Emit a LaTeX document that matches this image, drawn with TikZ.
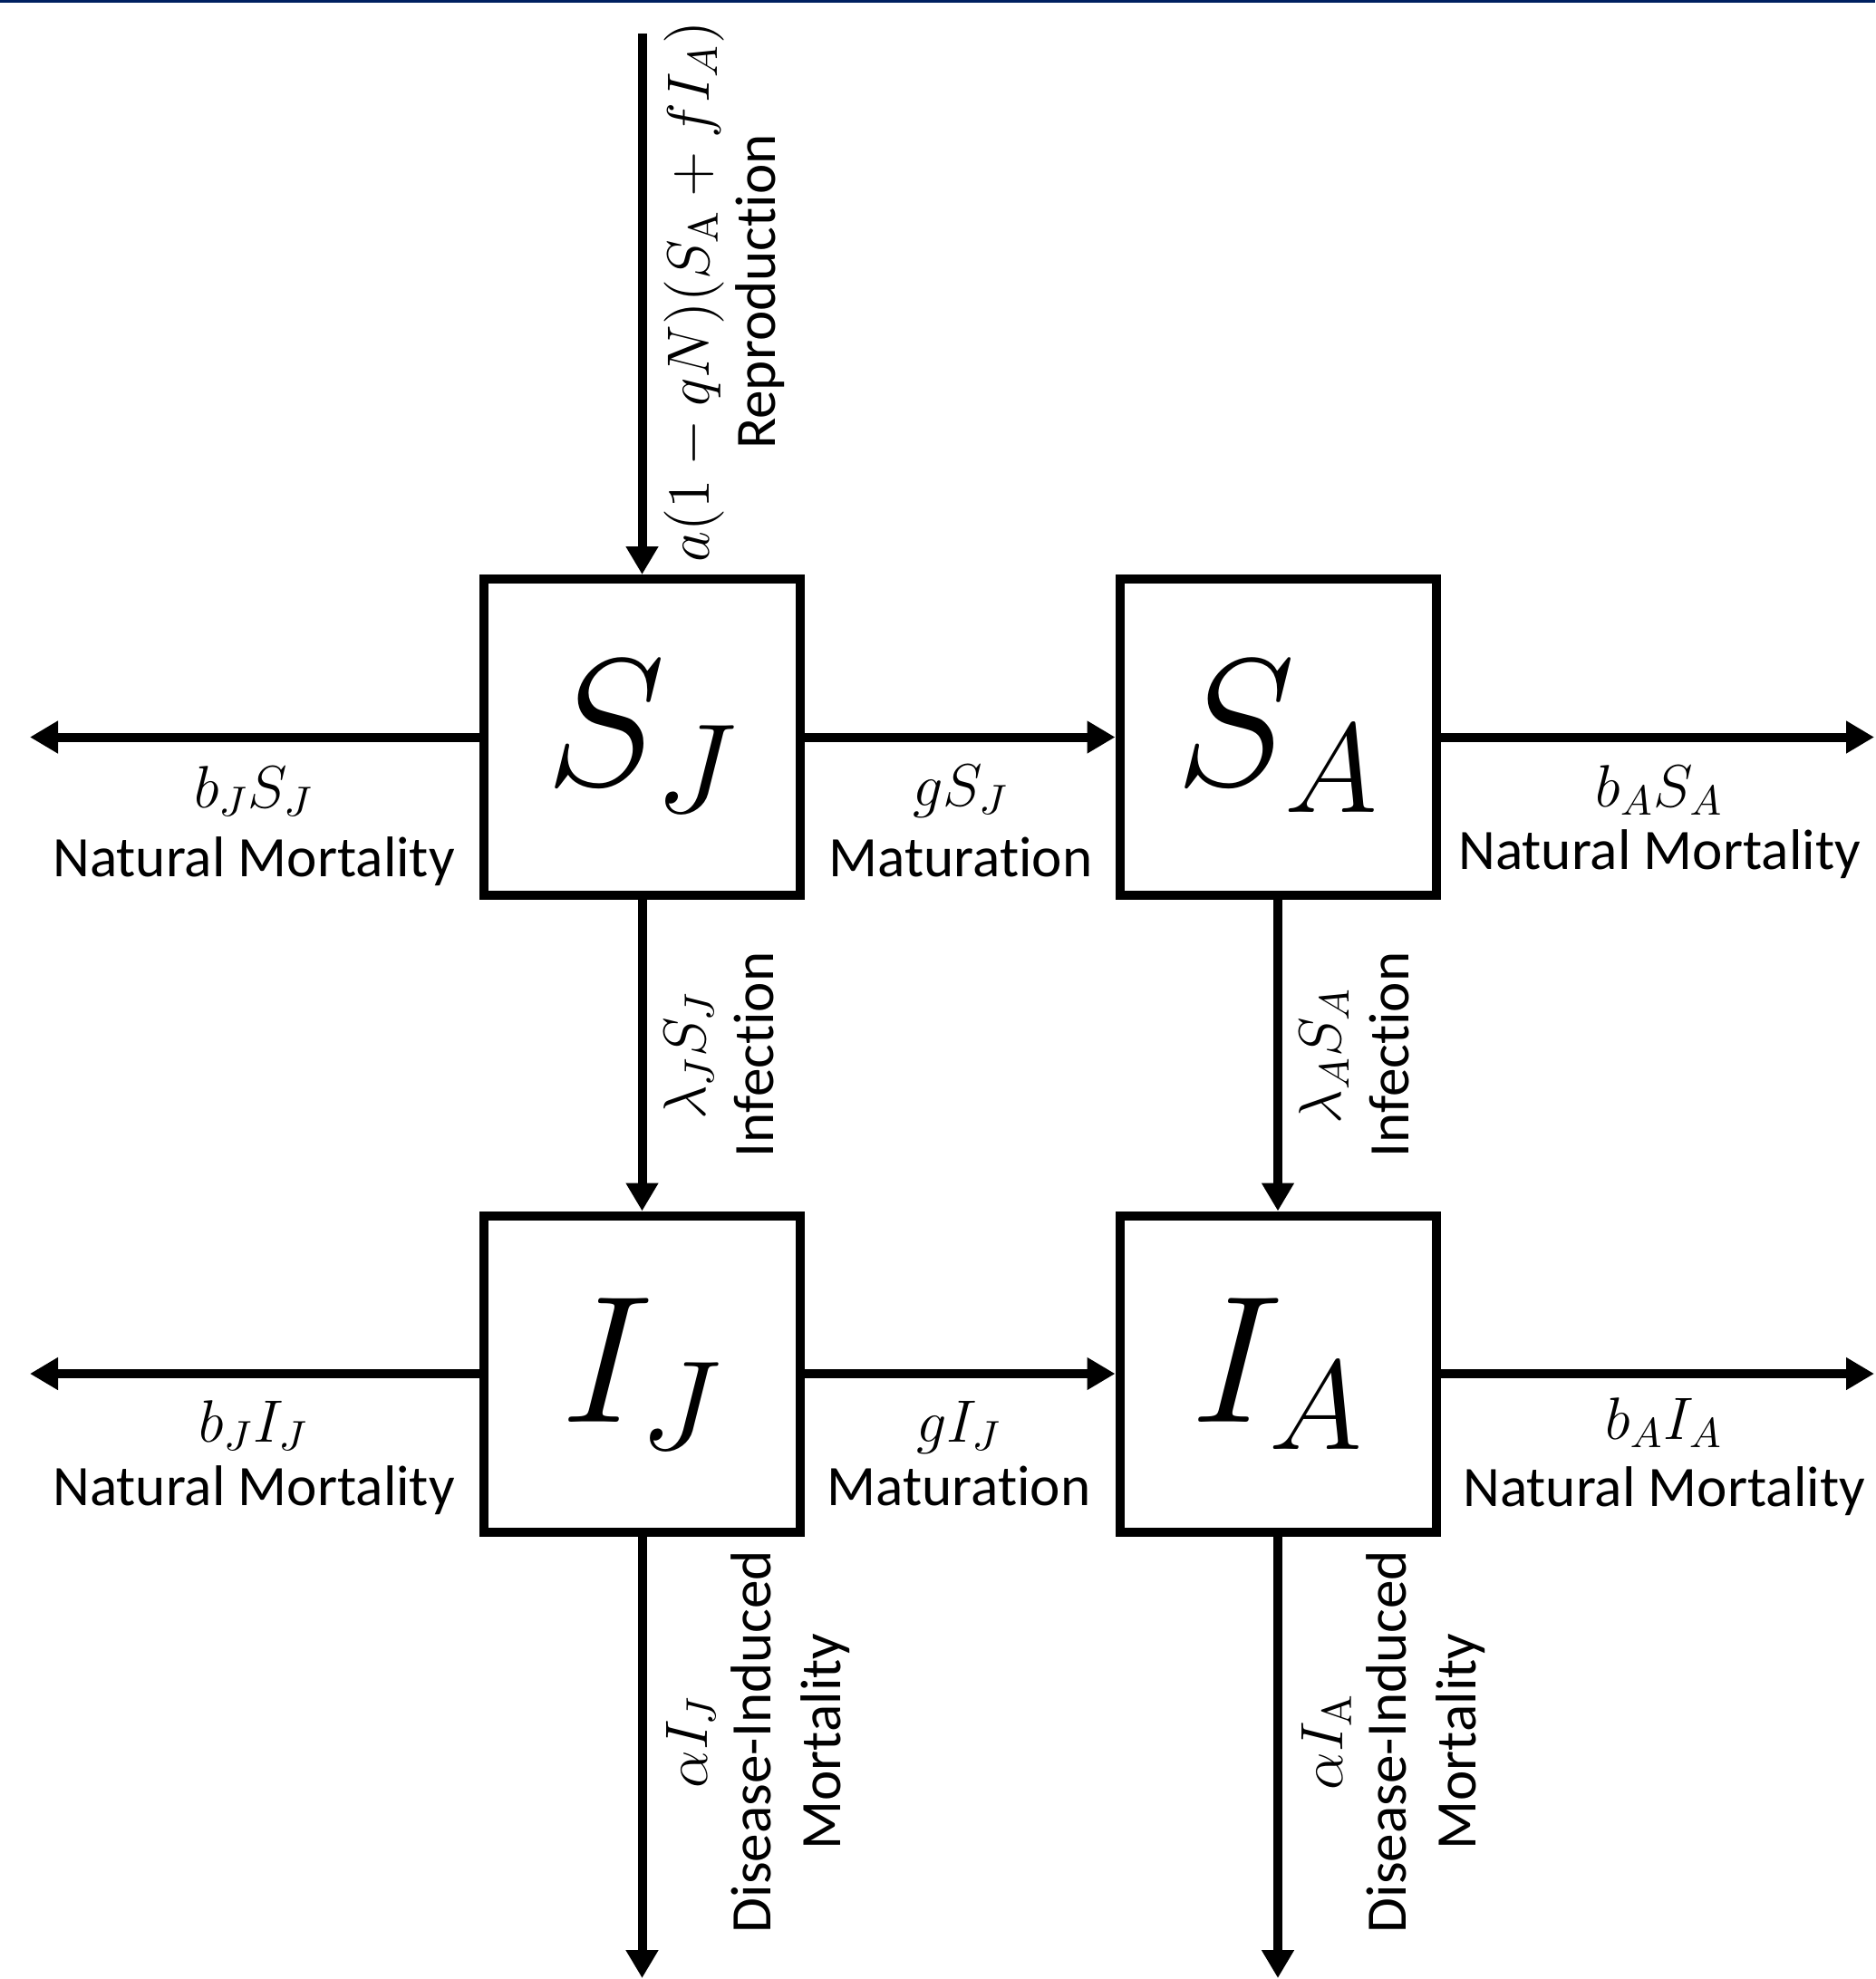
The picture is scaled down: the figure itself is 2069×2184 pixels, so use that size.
\RequirePackage{fix-cm}
\documentclass[tikz,border=0pt]{standalone}
\usepackage[no-math]{fontspec}
\setmainfont{Carlito}[Ligatures={NoCommon,NoRequired,NoContextual}]
\usetikzlibrary{arrows.meta}
\definecolor{band}{RGB}{0,32,96}
\tikzset{
  box/.style={draw, line width=2.5pt, minimum size=87.25pt, inner sep=0pt, font=\fontsize{50}{50}\selectfont},
  flow/.style={line width=2.5pt, -{Triangle[length=7.75pt,width=8.5pt]}},
  lbl/.style={anchor=base, inner sep=0pt, font=\fontsize{15.8}{19}\selectfont},
  mlbl/.style={anchor=base, inner sep=0pt, font=\fontsize{16.5}{19}\selectfont},
  vlbl/.style={lbl, rotate=90},
  vmlbl/.style={mlbl, rotate=90}
}
\begin{document}
\begin{tikzpicture}[x=0.25pt,y=-0.25pt]
\useasboundingbox (0,0) rectangle (2069,2184);
\fill[band] (0,0) rectangle (2069,3.5);
% compartments
\node[box] (SJ) at (708.5,813.5) {$S_J$};
\node[box] (SA) at (1410,813.5) {$S_A$};
\node[box] (IJ) at (708.5,1516) {$I_J$};
\node[box] (IA) at (1410,1516) {$I_A$};
% free ends
\coordinate (src) at (708.5,37);
\coordinate (outSJ) at (33,813.5);
\coordinate (outSA) at (2068,813.5);
\coordinate (outIJ) at (33,1516);
\coordinate (outIA) at (2068,1516);
\coordinate (dIJ) at (708.5,2183);
\coordinate (dIA) at (1410,2183);
% flows
\draw[flow] (src) -- (SJ);
\draw[flow] (SJ) -- (outSJ);
\draw[flow] (SJ) -- (SA);
\draw[flow] (SA) -- (outSA);
\draw[flow] (SJ) -- (IJ);
\draw[flow] (SA) -- (IA);
\draw[flow] (IJ) -- (outIJ);
\draw[flow] (IJ) -- (IA);
\draw[flow] (IA) -- (outIA);
\draw[flow] (IJ) -- (dIJ);
\draw[flow] (IA) -- (dIA);
% horizontal labels, row 1
\node[mlbl] (m1) at (280,891) {$b_JS_J$};
\node[lbl] (t1) at (280,967) {Natural Mortality};
\node[mlbl] (m2) at (1060,889) {$gS_J$};
\node[lbl] (t2) at (1060,967) {Maturation};
\node[mlbl] (m3) at (1831,890) {$b_AS_A$};
\node[lbl] (t3) at (1831,959) {Natural Mortality};
% horizontal labels, row 2
\node[mlbl] (m4) at (280,1591) {$b_JI_J$};
\node[lbl] (t4) at (280,1661) {Natural Mortality};
\node[mlbl] (m5) at (1058,1591) {$gI_J$};
\node[lbl] (t5) at (1058,1661) {Maturation};
\node[mlbl] (m6) at (1836,1588) {$b_AI_A$};
\node[lbl] (t6) at (1836,1662) {Natural Mortality};
% vertical labels
\node[vmlbl] (m7) at (782,322) {$a(1-qN)(S_{\mathrm{A}}+fI_A)$};
\node[vlbl] (t7) at (855,322) {Reproduction};
\node[vmlbl] (m8) at (778,1165) {$\lambda_JS_J$};
\node[vlbl] (t8) at (853,1164) {Infection};
\node[vmlbl] (m9) at (1479,1165) {$\lambda_AS_A$};
\node[vlbl] (t9) at (1554,1164) {Infection};
\node[vmlbl] (m10) at (780,1922) {$\alpha I_J$};
\node[vlbl] (t10) at (850,1922) {Disease-Induced};
\node[vlbl] (u10) at (927,1922) {Mortality};
\node[vmlbl] (m11) at (1481,1922) {$\alpha I_{\mathrm{A}}$};
\node[vlbl] (t11) at (1551,1922) {Disease-Induced};
\node[vlbl] (u11) at (1628,1922) {Mortality};
\end{tikzpicture}
\end{document}
